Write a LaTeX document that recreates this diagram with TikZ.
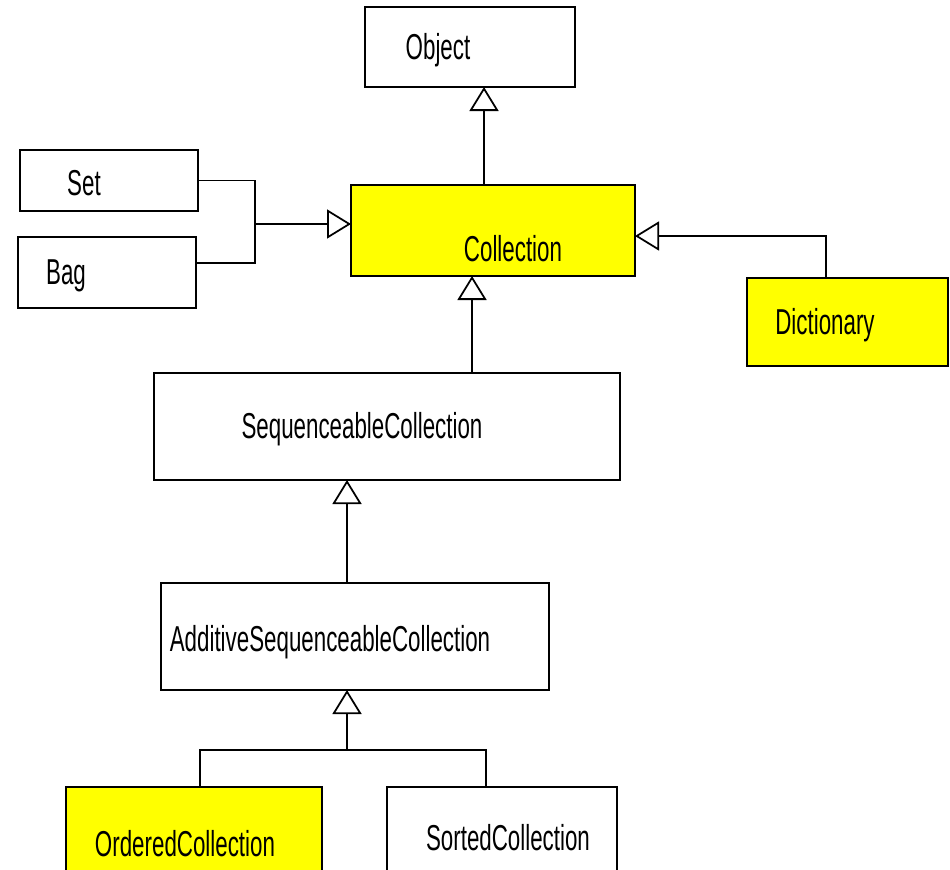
\documentclass[tikz,border=0pt]{standalone}
\usepackage{fontspec}
\setmainfont[FakeStretch=0.62]{Liberation Sans}
\usetikzlibrary{arrows.meta, positioning}
\definecolor{classyellow}{RGB}{255,255,0}
\tikzstyle{classbox} = [
    rectangle,
    draw=black,
    line width=1pt,
    outer sep=0pt,
    fill=white
]
\tikzstyle{marked} = [
    classbox,
    fill=classyellow
]
\tikzstyle{every label} = [
    font=\fontsize{20.5}{24}\selectfont,
    yshift=-0.06cm
]
\tikzstyle{line} = [line width=1pt]
\tikzstyle{inherit} = [line width=1pt, -{Triangle[open, length=0.48cm, width=0.58cm]}]

\begin{document}
\begin{tikzpicture}
\useasboundingbox (0,0) rectangle (19,-17.38);
\clip (0,0) rectangle (19,-17.38);

% Nodes
\node (object) [classbox, minimum width=4.2cm, minimum height=1.6cm,
    label={[xshift=-0.64cm]center:Object}] at (9.40,-0.94) {};
\node (collection) [marked, minimum width=5.68cm, minimum height=1.82cm, below=1.96cm of object, xshift=0.46cm,
    label={[xshift=0.40cm, yshift=-0.30cm]center:Collection}] {};
\node (set) [classbox, minimum width=3.56cm, minimum height=1.22cm, left=3.06cm of collection, yshift=1.0cm,
    label={[xshift=-0.50cm]center:Set}] {};
\node (bag) [classbox, minimum width=3.56cm, minimum height=1.42cm, below=0.52cm of set, xshift=-0.04cm,
    label={[xshift=-0.82cm]center:Bag}] {};
\node (dictionary) [marked, minimum width=4.02cm, minimum height=1.76cm, right=2.24cm of collection, yshift=-1.83cm,
    label={[xshift=-0.45cm]center:Dictionary}] {};
\node (seq) [classbox, minimum width=9.32cm, minimum height=2.14cm, below=1.94cm of collection, xshift=-2.12cm,
    label={[xshift=-0.50cm]center:SequenceableCollection}] {};
\node (asc) [classbox, minimum width=7.76cm, minimum height=2.14cm, below=2.06cm of seq, xshift=-0.64cm,
    label={[xshift=-0.50cm, yshift=-0.06cm]center:AdditiveSequenceableCollection}] {};
\node (ordered) [marked, minimum width=5.12cm, minimum height=2.14cm, below=1.94cm of asc, xshift=-3.22cm,
    label={[xshift=-0.18cm]center:OrderedCollection}] {};
\node (sorted) [classbox, minimum width=4.6cm, minimum height=2.14cm, right=1.30cm of ordered,
    label={[xshift=0.12cm, yshift=0.11cm]center:SortedCollection}] {};

\coordinate (join) at ([xshift=-1.92cm, yshift=0.13cm]collection.west);
\coordinate (split) at ([xshift=-0.16cm, yshift=-1.2cm]asc.south);

% Arrows
\draw [inherit] ([xshift=-0.18cm]collection.north) -- ([xshift=-0.18cm]collection.north |- object.south);
\draw [line] (set.east) -| (join);
\draw [line] ([yshift=0.19cm]bag.east) -| (join);
\draw [inherit] (join) -- (join -| collection.west);
\draw [inherit] ([xshift=-0.43cm]dictionary.north) |- ([yshift=-0.11cm]collection.east);
\draw [inherit] ([xshift=1.7cm]seq.north) -- ([xshift=1.7cm]seq.north |- collection.south);
\draw [inherit] ([xshift=-0.16cm]asc.north) -- ([xshift=-0.16cm]asc.north |- seq.south);
\draw [line] ([xshift=0.12cm]ordered.north) |- (split);
\draw [line] ([xshift=-0.32cm]sorted.north) |- (split);
\draw [inherit] (split) -- (split |- asc.south);

\end{tikzpicture}
\end{document}
